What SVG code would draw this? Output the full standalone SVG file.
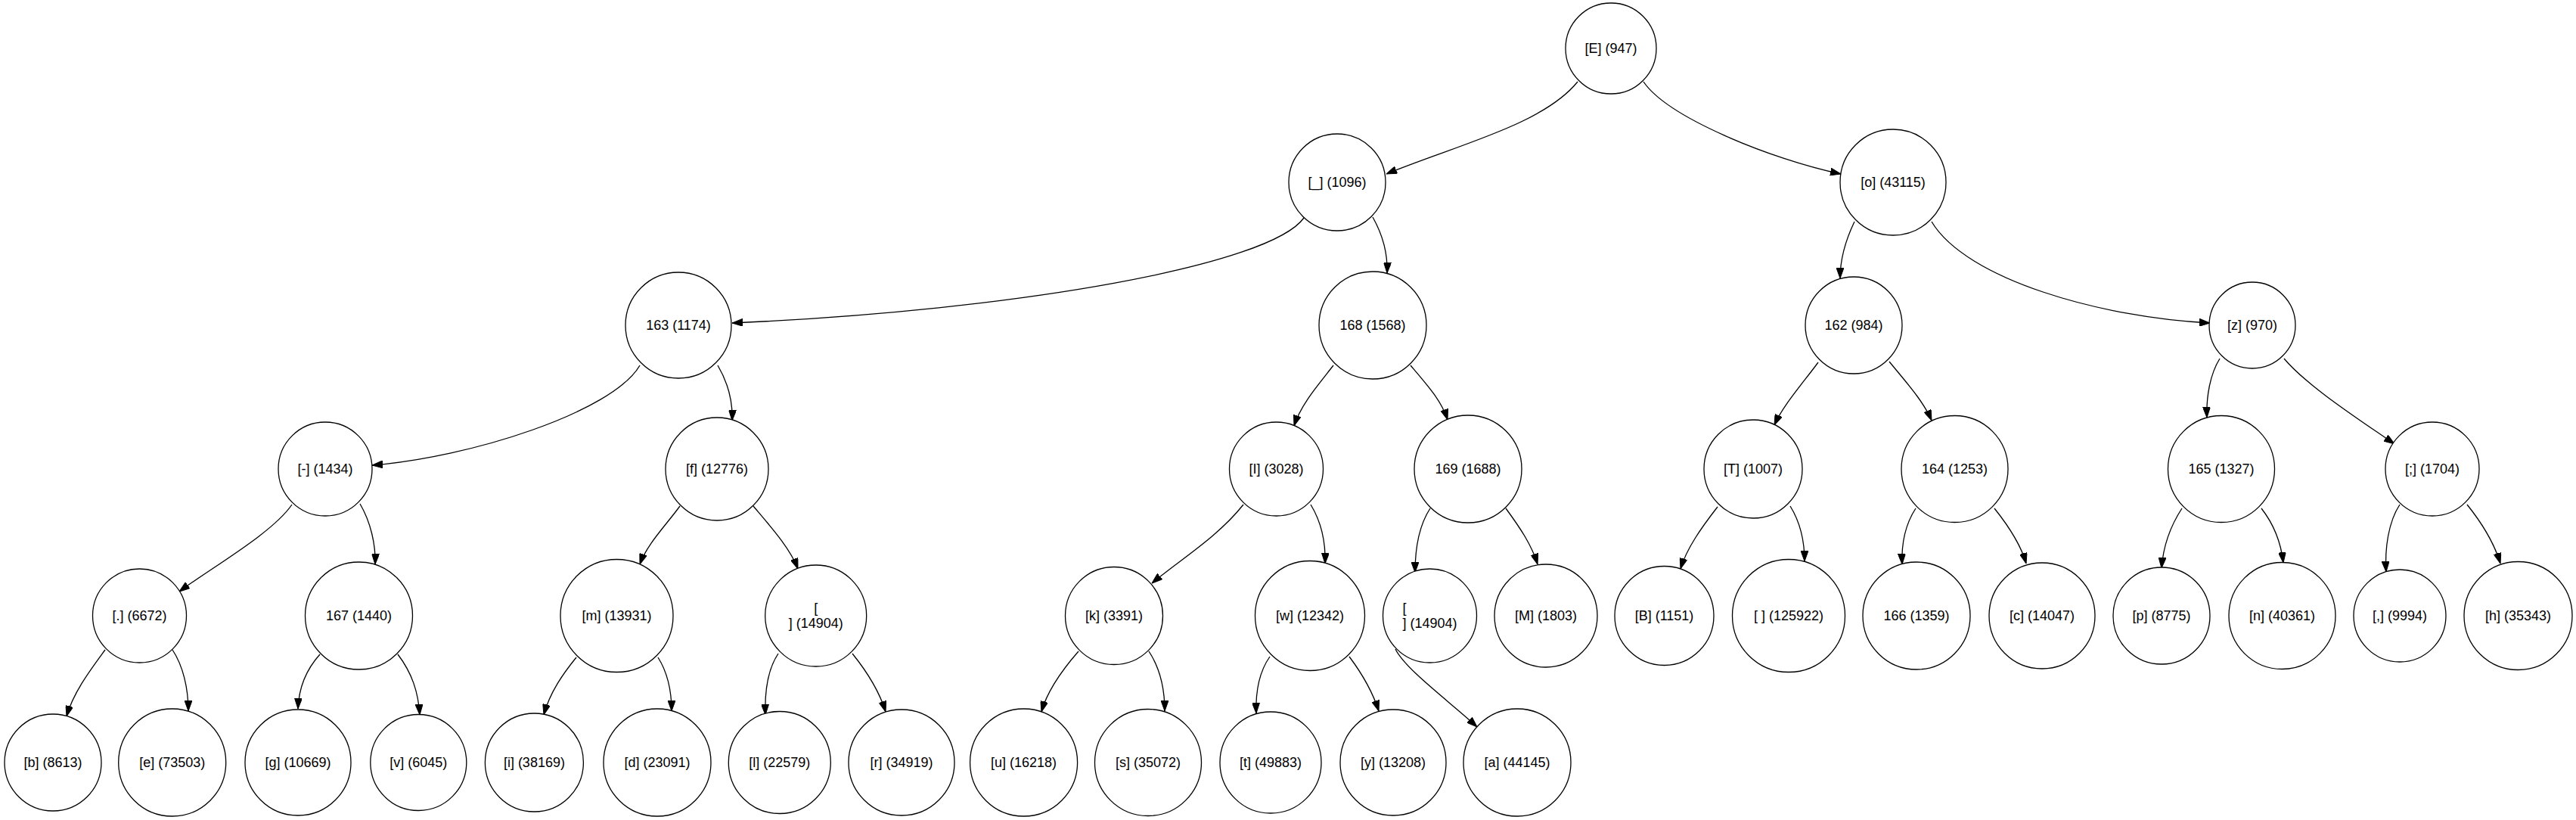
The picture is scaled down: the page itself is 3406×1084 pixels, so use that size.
<svg xmlns="http://www.w3.org/2000/svg" width="3406" height="1084" viewBox="0 0 3406 1084">
<defs>
<style>
.node circle{fill:#fff;stroke:#000;stroke-width:1.3}
.node text{font-family:"Liberation Sans",Arial,sans-serif;font-size:18px;fill:#000;text-anchor:middle}
.node text.l{text-anchor:start}
#edges path{fill:none;stroke:#000;stroke-width:1.3;marker-end:url(#arr)}
</style>
<marker id="arr" viewBox="0 0 14 10" refX="14" refY="5" markerWidth="14" markerHeight="10" markerUnits="userSpaceOnUse" orient="auto">
<path d="M0,0 L14,5 L0,10 z" fill="#000" stroke="#000" stroke-width="1"/>
</marker>
</defs>
<rect width="3406" height="1084" fill="#fff"/>
<g id="edges">
<path d="M2086,108 C2040,165 1925,192 1833,230"/>
<path d="M2173,108 C2205,155 2340,210 2434,230"/>
<path d="M1724,288 C1680,350 1350,410 968,427"/>
<path d="M1815,287 C1828,310 1835,335 1834,361"/>
<path d="M2452,293 C2440,318 2433,345 2433,368"/>
<path d="M2554,293 C2600,370 2780,420 2922,427"/>
<path d="M846,483 C810,545 620,605 492,615"/>
<path d="M949,483 C962,505 969,530 968,556"/>
<path d="M386,667 C360,705 280,750 237,782"/>
<path d="M476,666 C490,690 497,720 496,746"/>
<path d="M899,669 C880,695 855,720 846,746"/>
<path d="M996,669 C1018,695 1045,725 1055,752"/>
<path d="M139,859 C120,885 97,915 88,947"/>
<path d="M228,859 C242,880 249,910 249,940"/>
<path d="M423,865 C405,885 395,910 394,937"/>
<path d="M526,865 C545,890 553,915 555,945"/>
<path d="M762,869 C745,890 727,915 719,945"/>
<path d="M870,869 C882,888 888,912 888,940"/>
<path d="M1029,864 C1015,885 1011,915 1012,945"/>
<path d="M1127,864 C1148,890 1163,915 1171,941"/>
<path d="M1763,483 C1742,510 1720,535 1711,563"/>
<path d="M1865,483 C1888,510 1906,530 1914,555"/>
<path d="M1644,667 C1610,710 1560,740 1523,771"/>
<path d="M1733,667 C1747,690 1753,715 1752,745"/>
<path d="M1891,672 C1876,695 1871,725 1871,757"/>
<path d="M1991,672 C2010,698 2025,720 2033,746"/>
<path d="M1426,861 C1405,885 1385,912 1377,941"/>
<path d="M1519,861 C1533,882 1540,910 1540,940"/>
<path d="M1679,868 C1665,888 1660,915 1661,943"/>
<path d="M1784,868 C1802,892 1815,915 1823,940"/>
<path d="M1845,858 C1858,885 1920,930 1953,961"/>
<path d="M2404,479 C2385,505 2358,535 2346,562"/>
<path d="M2498,478 C2520,505 2543,530 2554,556"/>
<path d="M2935,474 C2922,495 2917,525 2918,552"/>
<path d="M3020,474 C3050,510 3120,555 3166,587"/>
<path d="M2271,670 C2250,697 2230,725 2222,752"/>
<path d="M2367,669 C2380,690 2386,715 2386,742"/>
<path d="M2533,672 C2518,695 2514,720 2515,746"/>
<path d="M2637,672 C2657,697 2672,720 2679,745"/>
<path d="M2885,672 C2868,698 2860,725 2858,751"/>
<path d="M2990,672 C3008,695 3016,718 3019,744"/>
<path d="M3173,667 C3158,690 3153,725 3155,756"/>
<path d="M3262,667 C3282,692 3298,718 3306,745"/>
</g>
<g id="n_E" class="node"><circle cx="2130" cy="64" r="60"/><text x="2130" y="69.5">[E] (947)</text></g>
<g id="n_us" class="node"><circle cx="1768" cy="241" r="64"/><text x="1768" y="246.5">[_] (1096)</text></g>
<g id="n_o" class="node"><circle cx="2503" cy="241" r="70"/><text x="2503" y="246.5">[o] (43115)</text></g>
<g id="n_163" class="node"><circle cx="897" cy="430" r="70"/><text x="897" y="435.5">163 (1174)</text></g>
<g id="n_168" class="node"><circle cx="1815" cy="430" r="71"/><text x="1815" y="435.5">168 (1568)</text></g>
<g id="n_162" class="node"><circle cx="2451" cy="430" r="64"/><text x="2451" y="435.5">162 (984)</text></g>
<g id="n_z" class="node"><circle cx="2978" cy="430" r="57"/><text x="2978" y="435.5">[z] (970)</text></g>
<g id="n_dash" class="node"><circle cx="430" cy="620" r="62"/><text x="430" y="625.5">[-] (1434)</text></g>
<g id="n_f" class="node"><circle cx="948" cy="620" r="68"/><text x="948" y="625.5">[f] (12776)</text></g>
<g id="n_I" class="node"><circle cx="1687.5" cy="620" r="62"/><text x="1687.5" y="625.5">[I] (3028)</text></g>
<g id="n_169" class="node"><circle cx="1941" cy="620" r="71"/><text x="1941" y="625.5">169 (1688)</text></g>
<g id="n_T" class="node"><circle cx="2318" cy="620" r="65"/><text x="2318" y="625.5">[T] (1007)</text></g>
<g id="n_164" class="node"><circle cx="2584.5" cy="620" r="70.5"/><text x="2584.5" y="625.5">164 (1253)</text></g>
<g id="n_165" class="node"><circle cx="2937" cy="620" r="70.5"/><text x="2937" y="625.5">165 (1327)</text></g>
<g id="n_semi" class="node"><circle cx="3216" cy="620" r="62"/><text x="3216" y="625.5">[;] (1704)</text></g>
<g id="n_dot" class="node"><circle cx="184.5" cy="814" r="62"/><text x="184.5" y="819.5">[.] (6672)</text></g>
<g id="n_167" class="node"><circle cx="474.5" cy="814" r="71"/><text x="474.5" y="819.5">167 (1440)</text></g>
<g id="n_m" class="node"><circle cx="815.5" cy="814" r="74.5"/><text x="815.5" y="819.5">[m] (13931)</text></g>
<g id="n_nl1" class="node"><circle cx="1078.7" cy="814" r="67"/><text x="1078.7" y="809.5">[</text><text x="1078.7" y="829.5">] (14904)</text></g>
<g id="n_k" class="node"><circle cx="1473" cy="814" r="64.5"/><text x="1473" y="819.5">[k] (3391)</text></g>
<g id="n_w" class="node"><circle cx="1732" cy="814" r="72.5"/><text x="1732" y="819.5">[w] (12342)</text></g>
<g id="n_nl2" class="node"><circle cx="1890.5" cy="814" r="62"/><text class="l" x="1854.5" y="809.5">[</text><text class="l" x="1854.5" y="829.5">] (14904)</text></g>
<g id="n_M" class="node"><circle cx="2044" cy="814" r="68"/><text x="2044" y="819.5">[M] (1803)</text></g>
<g id="n_B" class="node"><circle cx="2200.5" cy="814" r="65.5"/><text x="2200.5" y="819.5">[B] (1151)</text></g>
<g id="n_sp" class="node"><circle cx="2365" cy="814" r="74.5"/><text x="2365" y="819.5">[ ] (125922)</text></g>
<g id="n_166" class="node"><circle cx="2534" cy="814" r="71"/><text x="2534" y="819.5">166 (1359)</text></g>
<g id="n_c" class="node"><circle cx="2700" cy="814" r="70"/><text x="2700" y="819.5">[c] (14047)</text></g>
<g id="n_p" class="node"><circle cx="2858" cy="814" r="64"/><text x="2858" y="819.5">[p] (8775)</text></g>
<g id="n_n" class="node"><circle cx="3017.5" cy="814" r="70.5"/><text x="3017.5" y="819.5">[n] (40361)</text></g>
<g id="n_comma" class="node"><circle cx="3173" cy="814" r="61"/><text x="3173" y="819.5">[,] (9994)</text></g>
<g id="n_h" class="node"><circle cx="3329.5" cy="814" r="71.5"/><text x="3329.5" y="819.5">[h] (35343)</text></g>
<g id="n_b" class="node"><circle cx="70" cy="1008" r="64"/><text x="70" y="1013.5">[b] (8613)</text></g>
<g id="n_e" class="node"><circle cx="227.7" cy="1008" r="71"/><text x="227.7" y="1013.5">[e] (73503)</text></g>
<g id="n_g" class="node"><circle cx="394" cy="1008" r="70"/><text x="394" y="1013.5">[g] (10669)</text></g>
<g id="n_v" class="node"><circle cx="553.3" cy="1008" r="63.5"/><text x="553.3" y="1013.5">[v] (6045)</text></g>
<g id="n_i" class="node"><circle cx="706.4" cy="1008" r="65"/><text x="706.4" y="1013.5">[i] (38169)</text></g>
<g id="n_d" class="node"><circle cx="869" cy="1008" r="71"/><text x="869" y="1013.5">[d] (23091)</text></g>
<g id="n_l" class="node"><circle cx="1030.8" cy="1008" r="67.5"/><text x="1030.8" y="1013.5">[l] (22579)</text></g>
<g id="n_r" class="node"><circle cx="1192" cy="1008" r="70"/><text x="1192" y="1013.5">[r] (34919)</text></g>
<g id="n_u" class="node"><circle cx="1353.6" cy="1008" r="71"/><text x="1353.6" y="1013.5">[u] (16218)</text></g>
<g id="n_s" class="node"><circle cx="1518" cy="1008" r="70.5"/><text x="1518" y="1013.5">[s] (35072)</text></g>
<g id="n_t" class="node"><circle cx="1680" cy="1008" r="67"/><text x="1680" y="1013.5">[t] (49883)</text></g>
<g id="n_y" class="node"><circle cx="1842" cy="1008" r="70"/><text x="1842" y="1013.5">[y] (13208)</text></g>
<g id="n_a" class="node"><circle cx="2006" cy="1008" r="71"/><text x="2006" y="1013.5">[a] (44145)</text></g>
</svg>
